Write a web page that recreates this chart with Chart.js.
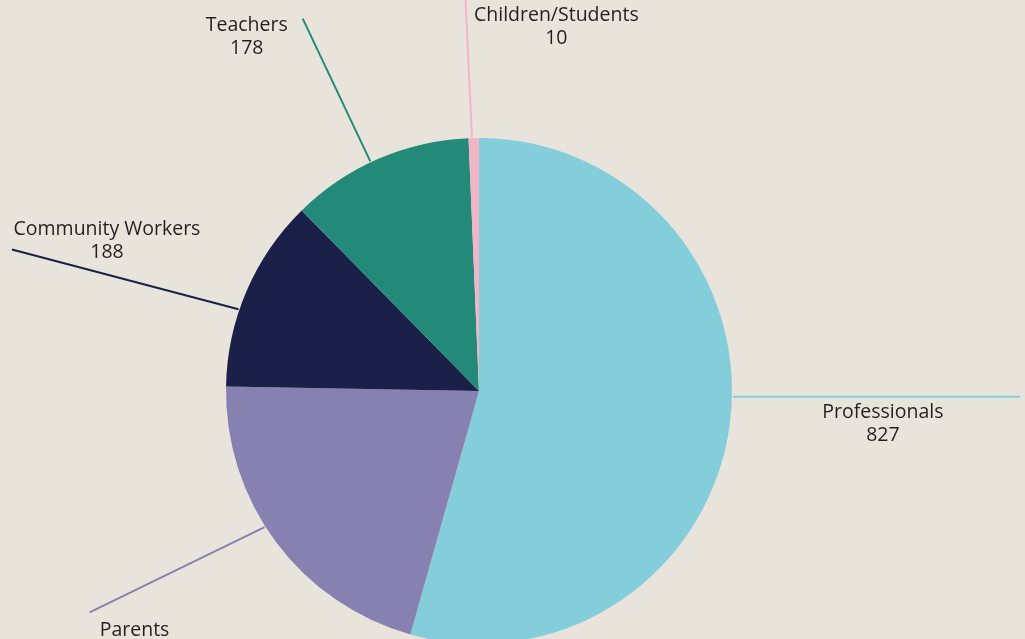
<!DOCTYPE html>
<html>
<head>
<meta charset="utf-8">
<script src="https://cdn.jsdelivr.net/npm/chart.js@4/dist/chart.umd.min.js"></script>
<style>
  html, body { margin: 0; padding: 0; overflow: hidden; }
  body {
    width: 1025px; height: 639px;
    background-color: #e9e4db;
  }
  #wrap { position: relative; width: 1025px; height: 650px; }
</style>
</head>
<body>
<div id="wrap"><canvas id="pie"></canvas></div>
<script>
let groups = ["Professionals", "Parents", "Community Workers", "Teachers", "Children/Students"];
let counts = [827, 318, 188, 178, 10];
let shownCounts = ["827", "", "188", "178", "10"];
let colours = ["#84cedb", "#8681b1", "#1a2048", "#238a79", "#f2b5c8"];

// leader line settings, angles in degrees relative to slice middle
let leaders = [
    { startOff: -6.6, horizontalTo: 1020, dx: 150, dy: 16 },
    { startOff: 4.2, endOff: 7, endR: 448, dx: 45, dy: 18 },
    { startOff: -4.5, endOff: -6.4, endR: 488, dx: 95, dy: -20 },
    { startOff: -1.9, endOff: -1.9, endR: 412, dx: -56, dy: 7 },
    { startOff: -0.4, endOff: -0.8, endR: 395, dx: 91, dy: 19 }
];

const labelPlugin = {
    id: "leaderLabels",
    afterDatasetsDraw(chart) {
        let ctx = chart.ctx;
        let arcs = chart.getDatasetMeta(0).data;
        ctx.save();
        ctx.font = "19.5px 'Open Sans'";
        ctx.textAlign = "center";
        ctx.textBaseline = "middle";
        arcs.forEach((arc, i) => {
            let p = arc.getProps(["x", "y", "startAngle", "endAngle", "outerRadius"], true);
            let mid = (p.startAngle + p.endAngle) / 2;
            let l = leaders[i];
            let a0 = mid + l.startOff * Math.PI / 180;
            let sx = p.x + Math.cos(a0) * (p.outerRadius + 1);
            let sy = p.y + Math.sin(a0) * (p.outerRadius + 1);
            let ex, ey;
            if (l.horizontalTo) {
                ex = l.horizontalTo;
                ey = sy;
            } else {
                let a1 = mid + l.endOff * Math.PI / 180;
                ex = p.x + Math.cos(a1) * l.endR;
                ey = p.y + Math.sin(a1) * l.endR;
            }
            ctx.strokeStyle = colours[i];
            ctx.lineWidth = 2;
            ctx.beginPath();
            ctx.moveTo(sx, sy);
            ctx.lineTo(ex, ey);
            ctx.stroke();

            let lx = l.horizontalTo ? sx + l.dx : ex + l.dx;
            let ly = ey + l.dy;
            ctx.fillStyle = "#231f20";
            ctx.fillText(groups[i], lx, ly);
            if (shownCounts[i]) ctx.fillText(shownCounts[i], lx, ly + 23);
        });
        ctx.restore();
    }
};

new Chart(document.getElementById("pie"), {
    type: "pie",
    data: {
        labels: groups,
        datasets: [{
            data: counts,
            backgroundColor: colours,
            borderWidth: 0
        }]
    },
    options: {
        responsive: true,
        maintainAspectRatio: false,
        animation: false,
        layout: { padding: { left: 226, right: 293, top: 138, bottom: 6 } },
        plugins: {
            legend: { display: false },
            tooltip: { enabled: false }
        }
    },
    plugins: [labelPlugin]
});
</script>
</body>
</html>
